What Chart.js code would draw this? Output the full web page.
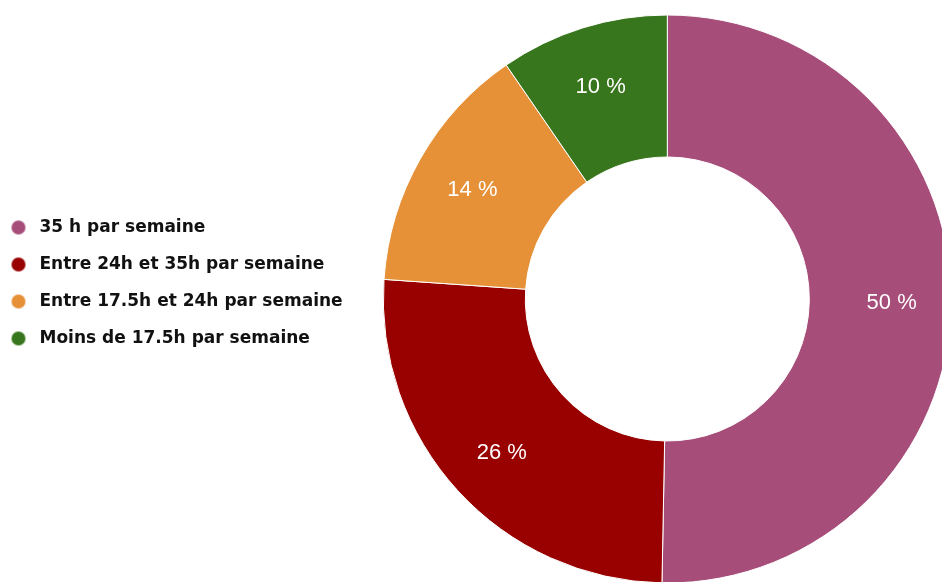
<!DOCTYPE html>
<html>
<head>
<meta charset="utf-8">
<script src="https://cdn.jsdelivr.net/npm/chart.js@4.4.0/dist/chart.umd.min.js"></script>
<style>
  html, body { margin: 0; padding: 0; background: #fff; overflow: hidden; }
  #cadre { position: relative; width: 942px; height: 582px; overflow: hidden; }
  #grafico { position: absolute; left: -6px; top: 0; }
</style>
</head>
<body>
<div id="cadre"><canvas id="grafico" width="988" height="598"></canvas></div>
<script>
// dados
var categorias = ['35 h par semaine', 'Entre 24h et 35h par semaine', 'Entre 17.5h et 24h par semaine', 'Moins de 17.5h par semaine'];
var valores = [50.3, 25.8, 14.3, 9.6];
var cores = ['#a64d79', '#990000', '#e69138', '#38761d'];

// bolinha da legenda (desenhada um pouco à esquerda pra dar espaço do texto)
function bolinha(cor) {
  var c = document.createElement('canvas');
  c.width = 24;
  c.height = 16;
  var g = c.getContext('2d');
  g.fillStyle = cor;
  g.beginPath();
  g.arc(8, 8, 7, 0, Math.PI * 2);
  g.fill();
  return c;
}
var bolinhas = cores.map(bolinha);

// sobe a legenda um pouco em relação ao centro do donut
var subirLegenda = {
  id: 'subirLegenda',
  afterLayout: function (chart) {
    chart.legend.top -= 16;
    chart.legend.bottom -= 16;
  }
};

// porcentagens dentro das fatias
var rotulos = {
  id: 'rotulos',
  afterDatasetsDraw: function (chart) {
    var ctx = chart.ctx;
    var meta = chart.getDatasetMeta(0);
    var total = valores.reduce(function (a, b) { return a + b; }, 0);
    ctx.save();
    ctx.font = '22px "Liberation Sans", Arial, sans-serif';
    ctx.fillStyle = '#ffffff';
    ctx.textAlign = 'center';
    ctx.textBaseline = 'middle';
    meta.data.forEach(function (arco, i) {
      var p = arco.getProps(['x', 'y', 'startAngle', 'endAngle', 'innerRadius', 'outerRadius']);
      var ang = (p.startAngle + p.endAngle) / 2;
      var r = p.innerRadius + (p.outerRadius - p.innerRadius) * 0.58;
      ctx.fillText(Math.round(valores[i] / total * 100) + ' %', p.x + Math.cos(ang) * r, p.y + Math.sin(ang) * r + 2);
    });
    ctx.restore();
  }
};

const grafico = document.getElementById('grafico');

new Chart(grafico, {
  type: 'doughnut',
  data: {
    labels: categorias,
    datasets: [{
      data: valores,
      backgroundColor: cores,
      borderColor: '#ffffff',
      borderWidth: 1,
      radius: 284
    }]
  },
  options: {
    responsive: false,
    animation: false,
    cutout: '50%',
    plugins: {
      legend: {
        position: 'left',
        align: 'center',
        labels: {
          usePointStyle: true,
          boxWidth: 17,
          boxHeight: 17,
          padding: 20,
          color: '#111111',
          font: { family: '"DejaVu Sans", Verdana, sans-serif', size: 17, weight: 'bold' },
          generateLabels: function (chart) {
            var itens = Chart.overrides.doughnut.plugins.legend.labels.generateLabels(chart);
            itens.forEach(function (item, i) {
              item.pointStyle = bolinhas[i];
            });
            return itens;
          }
        }
      },
      tooltip: { enabled: false }
    }
  },
  plugins: [subirLegenda, rotulos]
});
</script>
</body>
</html>
